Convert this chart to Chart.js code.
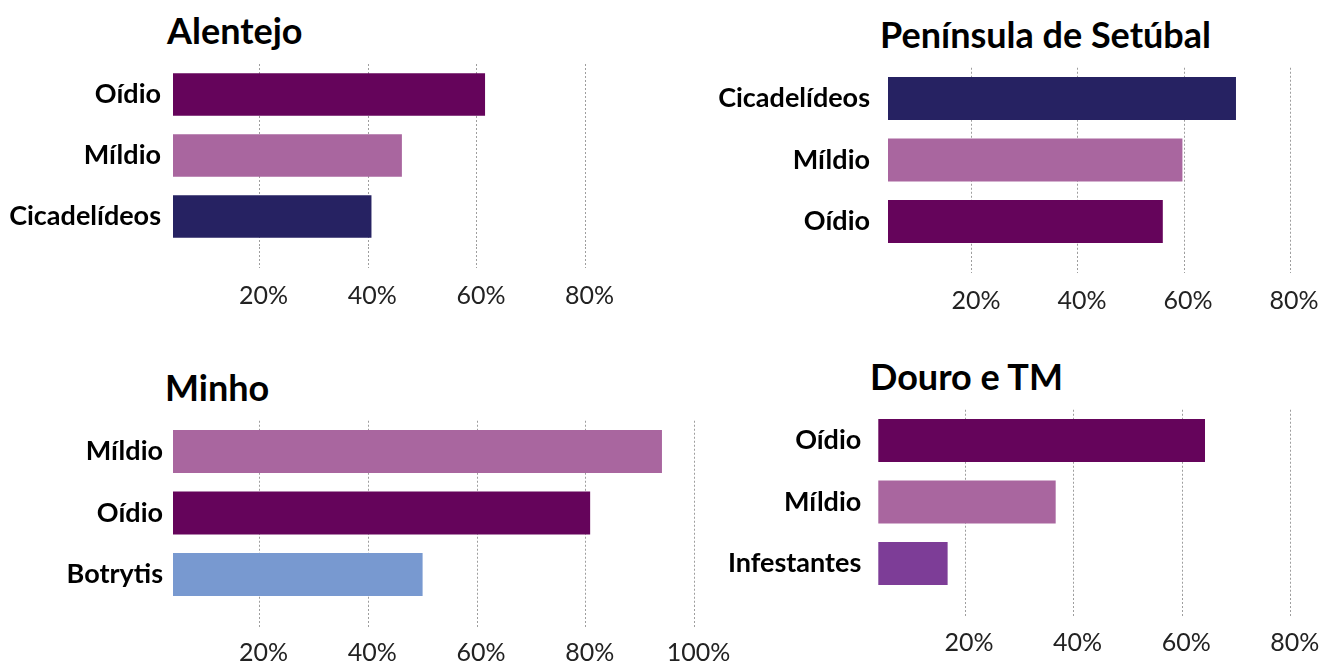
<!DOCTYPE html>
<html>
<head>
<meta charset="utf-8">
<script src="https://cdn.jsdelivr.net/npm/chart.js@4.4.1/dist/chart.umd.min.js"></script>
<style>
  body { margin: 0; width: 1328px; height: 663px; background: #fff; position: relative; overflow: hidden; font-family: Lato, sans-serif; }
  canvas { position: absolute; }
  .title { position: absolute; font-weight: 700; font-size: 36px; line-height: 36px; color: #000; white-space: nowrap; }
</style>
</head>
<body>
<div class="title" style="left:167px;top:12px">Alentejo</div>
<div class="title" style="left:880px;top:16px">Península de Setúbal</div>
<div class="title" style="left:165px;top:369px">Minho</div>
<div class="title" style="left:870px;top:358px">Douro e TM</div>
<canvas id="c0"></canvas>
<canvas id="c1"></canvas>
<canvas id="c2"></canvas>
<canvas id="c3"></canvas>
<script>
// values (% of answers)
const alentejoLabels = ["Oídio", "Míldio", "Cicadelídeos"];
const alentejoValues = [61.5, 46.2, 40.6];

const setubalLabels = ["Cicadelídeos", "Míldio", "Oídio"];
const setubalValues = [69.8, 59.7, 56.0];

const minhoLabels = ["Míldio", "Oídio", "Botrytis"];
const minhoValues = [94.0, 80.8, 50.0];

const douroLabels = ["Oídio", "Míldio", "Infestantes"];
const douroValues = [64.2, 36.7, 16.8];

const pctTicks = [20, 40, 60, 80];
const pctTicksMinho = [20, 40, 60, 80, 100];

const colours = {
  "Oídio": "#65045b",
  "Míldio": "#a9669f",
  "Cicadelídeos": "#262262",
  "Botrytis": "#7899d0",
  "Infestantes": "#7d3d97"
};

// layout of each small chart (page pixels): canvas box, where 0% sits, px per 1%
const panels = [
  { id: "c0", labels: alentejoLabels, values: alentejoValues, ticks: pctTicks,
    box: [0, 0, 664, 330], areaLeft: 173, areaTop: 64, areaBottom: 247,
    zero: 150.8, ppu: 5.435, max: 90, tickLen: 21, pad: 13, yPad: 12 },
  { id: "c1", labels: setubalLabels, values: setubalValues, ticks: pctTicks,
    box: [664, 0, 664, 330], areaLeft: 888, areaTop: 67.75, areaBottom: 252.25,
    zero: 865.4, ppu: 5.41, max: 84, tickLen: 20.75, pad: 13, yPad: 18 },
  { id: "c2", labels: minhoLabels, values: minhoValues, ticks: pctTicksMinho,
    box: [0, 330, 740, 333], areaLeft: 173, areaTop: 420.75, areaBottom: 605.25,
    zero: 150.6, ppu: 5.44, max: 100, tickLen: 22, pad: 11, yPad: 10 },
  { id: "c3", labels: douroLabels, values: douroValues, ticks: pctTicks,
    box: [700, 330, 628, 333], areaLeft: 878.3, areaTop: 409.75, areaBottom: 594.25,
    zero: 856.4, ppu: 5.43, max: 84, tickLen: 21.75, pad: 11.5, yPad: 17 }
];

const gridColour = "rgba(0,0,0,0.38)";

panels.forEach(function (p) {
  const [left, top, w, h] = p.box;
  const canvas = document.getElementById(p.id);
  canvas.style.left = left + "px";
  canvas.style.top = top + "px";
  canvas.width = w;
  canvas.height = h;

  const min = (p.areaLeft - p.zero) / p.ppu;
  const areaRight = p.zero + p.max * p.ppu;

  new Chart(canvas, {
    type: "bar",
    data: {
      labels: p.labels,
      datasets: [{
        data: p.values,
        backgroundColor: p.labels.map(l => colours[l]),
        borderWidth: 0,
        barPercentage: 0.7,
        categoryPercentage: 1
      }]
    },
    options: {
      indexAxis: "y",
      responsive: false,
      animation: false,
      layout: {
        padding: { left: 0, top: p.areaTop - top, right: left + w - areaRight, bottom: 0 }
      },
      plugins: { legend: { display: false }, tooltip: { enabled: false } },
      scales: {
        x: {
          type: "linear",
          min: min,
          max: p.max,
          z: 1,
          afterBuildTicks: s => { s.ticks = p.ticks.map(v => ({ value: v })); },
          afterFit: s => { s.height = top + h - p.areaBottom; },
          border: { display: false, dash: [2, 2] },
          grid: {
            color: gridColour,
            lineWidth: 1,
            drawTicks: true,
            tickLength: p.tickLen,
            tickColor: gridColour,
            tickBorderDash: [2, 2]
          },
          ticks: {
            autoSkip: false,
            maxRotation: 0,
            padding: p.pad,
            labelOffset: 4,
            color: "#222",
            font: { family: "Lato", size: 25, weight: "400" },
            callback: v => v + "%"
          }
        },
        y: {
          afterFit: s => { s.width = p.areaLeft - left; },
          border: { display: false },
          grid: { display: false, drawTicks: false },
          ticks: {
            padding: p.yPad,
            color: "#000",
            font: { family: "Lato", size: 27, weight: "700" }
          }
        }
      }
    }
  });
});
</script>
</body>
</html>
